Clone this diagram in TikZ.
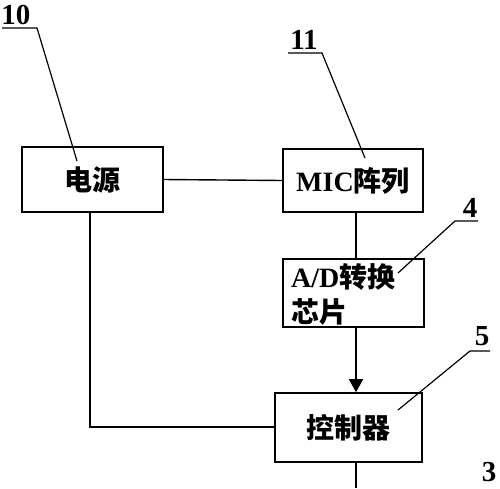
\documentclass[tikz,border=0pt]{standalone}
\usepackage{fontspec}
\setmainfont{Liberation Serif}
\newfontfamily\cjk{Noto Sans CJK SC}[BoldFont={Noto Sans CJK SC Black}]
\usetikzlibrary{arrows.meta}
\begin{document}
\begin{tikzpicture}[x=1pt,y=-1pt,
  box/.style={draw,line width=1.6pt,inner sep=0pt,font=\cjk\bfseries\fontsize{28}{35}\selectfont},
  wire/.style={line width=1.4pt},
  lead/.style={line width=1.2pt},
  num/.style={font=\bfseries\fontsize{29}{32}\selectfont,inner sep=0pt}]
\useasboundingbox (0,0) rectangle (500,488);
\node[box,minimum width=141pt,minimum height=65pt] (pw) at (92.5,179.5) {电源};
\node[box,minimum width=140pt,minimum height=63pt] (mic) at (353,180.5) {{\rmfamily\bfseries MIC}阵列};
\node[box,minimum width=141pt,minimum height=68pt] (ad) at (353.5,293) {};
\node[anchor=west,inner sep=0pt,align=left,font=\cjk\bfseries\fontsize{28}{35}\selectfont] (adt) at (291,294) {{\rmfamily\bfseries A/D}转换\\芯片};
\node[box,minimum width=147pt,minimum height=69pt] (ct) at (348.5,427.5) {控制器};
\coordinate (bot) at (356,488);
\draw[wire] (pw.east) -- (mic.west);
\draw[wire] (mic.south -| 356,0) -- (ad.north -| 356,0);
\draw[wire,-{Triangle[width=14pt,length=13pt]}] (ad.south -| 356,0) -- (ct.north -| 356,0);
\draw[wire] (ct.south -| 356,0) -- (bot);
\draw[wire] (pw.south -| 90,0) |- (ct.west |- 0,427);
% labels
\node[num,anchor=south] (n10) at (16,25) {10};
\coordinate (u10a) at (2,28);
\coordinate (u10b) at (37,28);
\draw[lead] (u10a) -- (u10b) -- (77,161);
\node[num,anchor=south] (n11) at (304,50) {11};
\draw[lead] (288,53) -- (322,53) -- (365,158);
\node[num,anchor=south] (n4) at (470,218) {4};
\draw[lead] (478,221) -- (455,221) -- (398,273);
\node[num,anchor=south] (n5) at (482,346) {5};
\draw[lead] (490,351) -- (470,351) -- (398,410);
\node[num,anchor=south] (n3) at (489,482) {3};
\end{tikzpicture}
\end{document}
